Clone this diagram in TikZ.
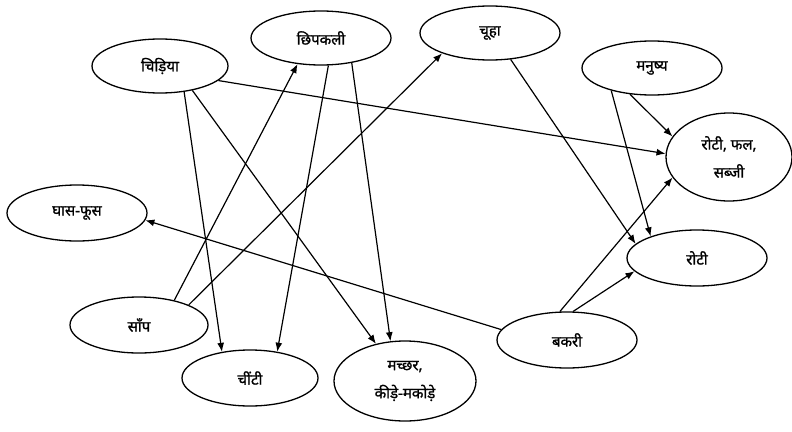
\documentclass[tikz,border=0pt]{standalone}
\usepackage{fontspec}
\newfontfamily\hindi[Script=Devanagari,FakeBold=1.2]{Noto Sans}
\usetikzlibrary{shapes.geometric,arrows.meta}
\begin{document}
\begin{tikzpicture}[x=1pt,y=-1pt,
  el/.style={ellipse,draw,line width=1.3pt,inner sep=0pt,align=center,font=\hindi\fontsize{15}{28}\selectfont},
  arr/.style={line width=1.2pt,-{Latex[length=9pt,width=7pt]}}]
\useasboundingbox (0,0) rectangle (792,431);
\node[el,minimum width=136pt,minimum height=54pt] (chid) at (160,66) {चिड़िया};
\node[el,minimum width=140pt,minimum height=54pt] (chip) at (321,38) {छिपकली};
\node[el,minimum width=140pt,minimum height=54pt] (chuh) at (490,33) {चूहा};
\node[el,minimum width=140pt,minimum height=54pt] (manu) at (652,68) {मनुष्य};
\node[el,minimum width=126pt,minimum height=88pt] (rfs) at (729,157) {रोटी, फल,\\सब्जी};
\node[el,minimum width=140pt,minimum height=56pt] (roti) at (697,258) {रोटी};
\node[el,minimum width=140pt,minimum height=56pt] (bakr) at (567,340) {बकरी};
\node[el,minimum width=140pt,minimum height=56pt] (ghas) at (77,213) {घास-फूस};
\node[el,minimum width=138pt,minimum height=56pt] (saap) at (139,325) {साँप};
\node[el,minimum width=136pt,minimum height=56pt] (chee) at (250,378) {चींटी};
\node[el,minimum width=142pt,minimum height=80pt] (mach) at (405,381) {मच्छर,\\कीड़े-मकोड़े};
\draw[arr] (chid.-14) -- (rfs.177);
\draw[arr] (chid.-47) -- (chee.137);
\draw[arr] (chid.-37) -- (mach.128);
\draw[arr] (chip.-75) -- (chee.44);
\draw[arr] (chip.-39) -- (mach.110);
\draw[arr] (saap.35) -- (chip.-132);
\draw[arr] (saap.22) -- (chuh.-157);
\draw[arr] (chuh.-52) -- (roti.167);
\draw[arr] (manu.-130) -- (rfs.160);
\draw[arr] (manu.-151) -- (roti.155);
\draw[arr] (bakr.104) -- (rfs.-160);
\draw[arr] (bakr.78) -- (roti.-168);
\draw[arr] (bakr.171) -- (ghas.-6);
\end{tikzpicture}
\end{document}
